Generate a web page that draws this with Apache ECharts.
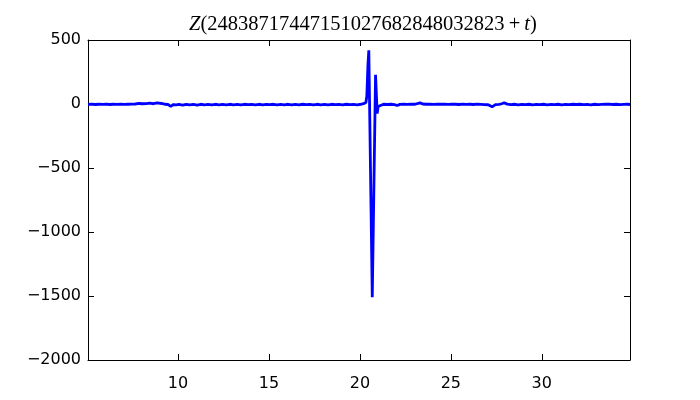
<!DOCTYPE html>
<html>
<head>
<meta charset="utf-8">
<script src="https://cdn.jsdelivr.net/npm/echarts@6/dist/echarts.min.js"></script>
<style>
  html, body { margin: 0; padding: 0; background: #fff; }
  #chart { width: 700px; height: 400px; }
</style>
</head>
<body>
<div id="chart"></div>
<script>
    // t values and Z(t) values
    var tValues = [
        5.05, 5.25, 5.45, 5.65, 5.85, 6.05, 6.25, 6.45, 6.65, 6.85, 7.05, 7.25, 7.45, 7.65, 7.85,
        8.05, 8.25, 8.45, 8.65, 8.85, 8.95, 9.1, 9.3, 9.45, 9.6, 9.75, 9.9,
        10.05, 10.25, 10.45, 10.65, 10.85, 11.05, 11.25, 11.45, 11.65, 11.85,
        12.05, 12.25, 12.45, 12.65, 12.85, 13.05, 13.25, 13.45, 13.65, 13.85,
        14.05, 14.25, 14.45, 14.65, 14.85, 15.05, 15.25, 15.45, 15.65, 15.85,
        16.05, 16.25, 16.45, 16.65, 16.85, 17.05, 17.25, 17.45, 17.65, 17.85,
        18.05, 18.25, 18.45, 18.65, 18.85, 19.05, 19.25, 19.45, 19.65, 19.85,
        20.05, 20.2, 20.33, 20.38, 20.44, 20.49, 20.68, 20.86, 20.90, 20.95, 21.0,
        21.1, 21.3, 21.5, 21.7, 21.9, 22.05, 22.2, 22.4, 22.6, 22.8,
        23.0, 23.15, 23.3, 23.45, 23.65, 23.85, 24.05, 24.25, 24.45, 24.65, 24.85,
        25.05, 25.25, 25.45, 25.65, 25.85, 26.05, 26.25, 26.45, 26.65, 26.85,
        27.05, 27.27, 27.45, 27.65, 27.8, 27.93, 28.1, 28.3, 28.5, 28.7, 28.9,
        29.1, 29.3, 29.5, 29.7, 29.9, 30.1, 30.3, 30.5, 30.7, 30.9,
        31.1, 31.3, 31.5, 31.7, 31.9, 32.1, 32.3, 32.5, 32.7, 32.9,
        33.1, 33.3, 33.5, 33.7, 33.9, 34.1, 34.3, 34.5, 34.7, 34.85
    ]
    var zValues = [
        -3, -1, -4, -2, -3, -1, -4, -2, -3, -1, -3, -2, -1, 0, 4,
        2, 3, 6, 2, 8, 14, 4, -2, -4, -18, -4, -7,
        -3, -8, -2, -7, -3, -8, -2, -6, -3, -7,
        -2, -6, -3, -7, -2, -6, -3, -7, -2, -5,
        -3, -7, -2, -6, -3, -5, -2, -7, -3, -6,
        -2, -7, -3, -6, -2, -5, -3, -7, -2, -6,
        -3, -7, -2, -5, -3, -6, -2, -5, -3, -6,
        -2, 2, 12, 60, 300, 420, -1510, 228, 90, -75, -20,
        -6, -2, -4, -2, -5, -12, -3, -1, -3, -1,
        -2, 2, 9, 0, -2, -1, -3, -1, -2, -1, -3,
        -1, -2, -4, -1, -3, -2, -4, -1, -3, -5,
        -6, -22, -5, -3, 2, 10, -1, -5, -2, -6, -3,
        -5, -2, -6, -3, -5, -2, -6, -3, -5, -2,
        -6, -3, -5, -2, -4, -2, -5, -3, -6, -2,
        -5, -3, -2, -1, -4, -2, -5, -3, -2, -4
    ]
    var xTicks = [10, 15, 20, 25, 30]
    var titleDigits = '24838717447151027682848032823'

    var lineData = []
    for (let i = 0; i < tValues.length; i++) {
        lineData.push([tValues[i], zValues[i]])
    }

    var minus = function (v) {
        return String(v).replace('-', '\u2212')
    }

    var axisText = { color: '#000', fontFamily: 'DejaVu Sans', fontSize: 16 }
    var axisLine = { show: true, onZero: false, lineStyle: { color: '#000', width: 1 } }
    var tick = { show: true, inside: true, length: 6, lineStyle: { color: '#000', width: 1 } }

    var option = {
        animation: false,
        backgroundColor: '#fff',
        title: {
            text: '{i|Z}{n|(' + titleDigits + '\u2009+\u2009}{i|t}{n|)}',
            left: 358,
            textAlign: 'center',
            top: 9,
            textStyle: {
                fontWeight: 'normal',
                rich: {
                    i: { fontFamily: 'Liberation Serif', fontStyle: 'italic', fontWeight: 'normal', fontSize: 20.5, color: '#000' },
                    n: { fontFamily: 'Liberation Serif', fontWeight: 'normal', fontSize: 20.5, color: '#000' }
                }
            }
        },
        grid: { left: 88, right: 70, top: 40, bottom: 40 },
        xAxis: [{
            type: 'value',
            min: 5.05,
            max: 34.85,
            axisLine: axisLine,
            axisTick: Object.assign({ customValues: xTicks }, tick),
            axisLabel: Object.assign({ customValues: xTicks, margin: 16 }, axisText),
            splitLine: { show: false }
        }, {
            type: 'value',
            position: 'top',
            min: 5.05,
            max: 34.85,
            axisLine: axisLine,
            axisTick: Object.assign({ customValues: xTicks }, tick),
            axisLabel: { show: false },
            splitLine: { show: false }
        }],
        yAxis: [{
            type: 'value',
            min: -2000,
            max: 500,
            interval: 500,
            axisLine: axisLine,
            axisTick: tick,
            axisLabel: Object.assign({ formatter: minus, margin: 7 }, axisText),
            splitLine: { show: false }
        }, {
            type: 'value',
            position: 'right',
            min: -2000,
            max: 500,
            interval: 500,
            axisLine: axisLine,
            axisTick: tick,
            axisLabel: { show: false },
            splitLine: { show: false }
        }],
        series: [{
            type: 'line',
            data: lineData,
            showSymbol: false,
            lineStyle: { color: '#0000ff', width: 2.8 },
            itemStyle: { color: '#0000ff' }
        }]
    }

    var myChart = echarts.init(document.getElementById('chart'))
    myChart.setOption(option)
</script>
</body>
</html>
